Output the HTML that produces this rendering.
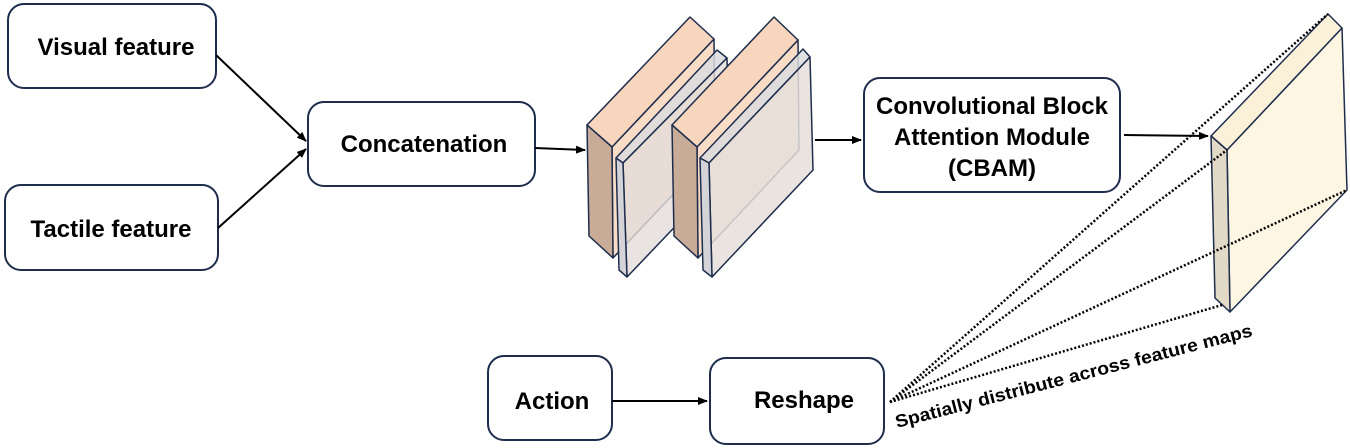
<!DOCTYPE html>
<html><head><style>
body{margin:0;background:#fff;}
svg{display:block;}
text{font-family:"Liberation Sans",Arial,sans-serif;font-weight:bold;fill:#000;}
</style></head><body>
<svg width="1350" height="448" viewBox="0 0 1350 448" xmlns="http://www.w3.org/2000/svg">
<defs>
<marker id="ah" markerWidth="10" markerHeight="8" refX="9" refY="4" orient="auto" markerUnits="userSpaceOnUse">
<path d="M0,0 L10,4 L0,8 z" fill="#000"/>
</marker>
</defs>
<g fill="#fff" stroke="#1f2d4d" stroke-width="2">
<rect x="8" y="4" width="208" height="84" rx="16"/>
<rect x="5" y="185" width="213" height="85" rx="16"/>
<rect x="308" y="102" width="227" height="84" rx="16"/>
<rect x="864" y="78" width="256" height="114" rx="16"/>
<rect x="488" y="356" width="124" height="84" rx="16"/>
<rect x="710" y="358" width="174" height="86" rx="16"/>
</g>
<g font-size="24" text-anchor="middle">
<text x="116" y="55">Visual feature</text>
<text x="111" y="237">Tactile feature</text>
<text x="424" y="152">Concatenation</text>
<text x="992" y="114">Convolutional Block</text>
<text x="992" y="145">Attention Module</text>
<text x="992" y="176">(CBAM)</text>
<text x="552" y="409">Action</text>
<text x="804" y="408">Reshape</text>
</g>
<g stroke="#000" stroke-width="2" fill="none" marker-end="url(#ah)">
<line x1="216" y1="55" x2="306" y2="141"/>
<line x1="218" y1="228" x2="306" y2="149"/>
<line x1="535" y1="148" x2="585" y2="150"/>
<line x1="815" y1="140" x2="861" y2="140"/>
<line x1="1124" y1="135" x2="1208" y2="136"/>
<line x1="612" y1="401" x2="707" y2="401"/>
</g>
<g stroke="#1f2d4d" stroke-width="1.5" stroke-linejoin="round">
<polygon points="612,147 714,39 715,150 613,258" fill="#f9dcc6"/>
<polygon points="587,125 690,17 714,39 612,147" fill="#f7d6bd"/>
<polygon points="587,125 612,147 613,258 589,236" fill="#c8ac98"/>
<polygon points="616,158 717,50 727,58 623,163" fill="#dcdcdf" fill-opacity="0.85"/>
<polygon points="623,163 727,58 729,170 627,277" fill="#e4ddda" fill-opacity="0.8"/>
<polygon points="616,158 623,163 627,277 619,270" fill="#d4d4d8"/>
<polygon points="697,147 798,40 799,150 698,258" fill="#f9dcc6"/>
<polygon points="672,125 774,17 798,40 697,147" fill="#f7d6bd"/>
<polygon points="672,125 697,147 698,258 674,236" fill="#c8ac98"/>
<polygon points="700,158 803,49 810,57 709,163" fill="#dcdcdf" fill-opacity="0.85"/>
<polygon points="709,163 810,57 813,170 712,277" fill="#e6dfdc" fill-opacity="0.85"/>
<polygon points="700,158 709,163 712,277 703,270" fill="#d4d4d8"/>
<polygon points="1227,150 1342,28 1347,190 1230,312" fill="#fdf6e3"/>
<polygon points="1211,136 1328,14 1342,28 1227,150" fill="#fbf0d8"/>
<polygon points="1211,136 1227,150 1230,312 1215,298" fill="#e2d9c6"/>
</g>
<g stroke="#000" stroke-width="2.5" stroke-dasharray="2,2" fill="none">
<line x1="890" y1="402" x2="1328" y2="14"/>
<line x1="890" y1="402" x2="1227" y2="150"/>
<line x1="890" y1="402" x2="1347" y2="190"/>
<line x1="890" y1="402" x2="1222" y2="305"/>
</g>
<text font-size="18" transform="translate(897,428) rotate(-14.5)" textLength="368" lengthAdjust="spacingAndGlyphs">Spatially distribute across feature maps</text>
</svg>
</body></html>
